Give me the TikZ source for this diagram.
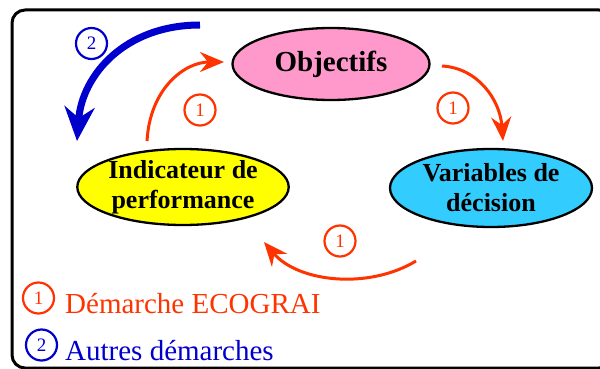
\documentclass[tikz,border=0pt]{standalone}
\usepackage{fontspec}
\setmainfont{Liberation Serif}
\usetikzlibrary{shapes.geometric,arrows.meta}
\definecolor{redo}{RGB}{255,51,0}
\definecolor{blueo}{RGB}{0,0,204}
\definecolor{pinko}{RGB}{255,153,204}
\definecolor{yello}{RGB}{255,255,0}
\definecolor{cyano}{RGB}{51,204,255}
\tikzset{
  ell/.style={ellipse,draw=black,line width=2.3pt,inner sep=0pt,align=center,
    font=\bfseries\fontsize{26}{30}\selectfont},
  num/.style={circle,draw,line width=2.2pt,minimum size=31pt,inner sep=0pt,
    font=\fontsize{19}{19}\selectfont},
  redarrow/.style={draw=redo,line width=3pt,-{Stealth[length=24pt,width=20pt,inset=8pt]}},
  bluearrow/.style={draw=blueo,line width=7pt,-{Stealth[length=34pt,width=30pt,inset=11pt]}},
  legend/.style={anchor=base west,inner sep=0pt,font=\fontsize{29}{30}\selectfont}
}
\begin{document}
\begin{tikzpicture}[x=1pt,y=-1pt]
\useasboundingbox (0,0) rectangle (600,369);
% frame
\draw[line width=3pt,rounded corners=13pt] (12,10) rectangle (612,368);
% nodes
\node[ell,fill=pinko,minimum width=197pt,minimum height=72pt,font=\bfseries\fontsize{29}{30}\selectfont] (obj) at (331,64) {Objectifs};
\node[ell,fill=yello,minimum width=196pt,minimum height=76pt] (ind) at (183,187) {Indicateur de\\performance};
\node[ell,fill=cyano,minimum width=202pt,minimum height=78pt] (var) at (491,188) {Variables de\\décision};
% arrow end points
\coordinate (a1s) at (147,141);
\coordinate (a1e) at (224,62);
\coordinate (a2s) at (442,66);
\coordinate (a2e) at (503,141);
\coordinate (a3s) at (416,261);
\coordinate (a3e) at (264,242);
\coordinate (b1s) at (200,25);
\coordinate (b1e) at (77,141);
% arrows
\draw[redarrow] (a1s) .. controls (150,88) and (185,62) .. (a1e);
\draw[redarrow] (a2s) .. controls (478,68) and (500,100) .. (a2e);
\draw[redarrow] (a3s) .. controls (368,290) and (298,282) .. (a3e);
\draw[bluearrow] (b1s) .. controls (125,25) and (82,75) .. (b1e);
% labels
\node[num,draw=redo,text=redo] (l1) at (200,110) {1};
\node[num,draw=redo,text=redo] (l2) at (453,108) {1};
\node[num,draw=redo,text=redo] (l3) at (340,241) {1};
\node[num,draw=blueo,text=blueo] (l4) at (91.5,43.5) {2};
% legend
\node[num,draw=redo,text=redo] (k1) at (38.5,298) {1};
\node[legend,text=redo] (t1) at (65,313) {Démarche ECOGRAI};
\node[num,draw=blueo,text=blueo] (k2) at (41.5,345) {2};
\node[legend,text=blueo] (t2) at (65,360) {Autres démarches};
\end{tikzpicture}
\end{document}
